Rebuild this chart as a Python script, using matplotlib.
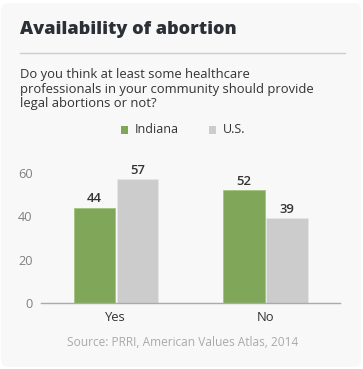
import matplotlib
matplotlib.use("Agg")
import matplotlib.pyplot as plt
from matplotlib.patches import FancyBboxPatch, Rectangle
import numpy as np

# chart data
categories = ["Yes", "No"]
indiana = [44, 52]
us = [57, 39]
series_names = ["Indiana", "U.S."]
yticks = [0, 20, 40, 60]

W, H = 363, 369
green = "#80a759"
grey = "#cccccc"

plt.rcParams["font.family"] = ["Open Sans", "DejaVu Sans"]

fig = plt.figure(figsize=(W / 100, H / 100), dpi=100)
fig.patch.set_facecolor("white")


def fx(px):
    return px / W


def fy(py):
    return 1 - py / H


# card background with slightly rounded corners
card = FancyBboxPatch((fx(1), fy(367)), fx(360), 364 / H,
                      boxstyle="round,pad=0,rounding_size=0.02",
                      transform=fig.transFigure, facecolor="#f8f8f8",
                      edgecolor="none", zorder=-5)
fig.patches.append(card)

# title and separator
fig.text(fx(20), fy(30), "Availability of abortion", fontsize=13.1,
         fontweight="heavy", color="#2b2f36", va="center", ha="left")
fig.add_artist(plt.Line2D([fx(20), fx(345)], [fy(53), fy(53)],
                          transform=fig.transFigure, color="#cccccc", lw=1))

# subtitle
fig.text(fx(20), fy(89),
         "Do you think at least some healthcare\n"
         "professionals in your community should provide\n"
         "legal abortions or not?",
         fontsize=9.4, color="#333333", va="center", ha="left",
         linespacing=1.12)

# legend
for name, col, sx in zip(series_names, [green, grey], [121, 209]):
    fig.patches.append(Rectangle((fx(sx), fy(134)), fx(7), 8 / H,
                                 transform=fig.transFigure, facecolor=col,
                                 edgecolor="none"))
    fig.text(fx(sx + 14), fy(130), name, fontsize=9, color="#333333",
             va="center", ha="left")

# axes
ax = fig.add_axes([fx(41), fy(303), fx(340) - fx(41), (303 - 151.3) / H])
ax.set_facecolor("none")
ax.set_zorder(2)
x = np.arange(len(categories))
bw = 0.278
b1 = ax.bar(x - bw / 2 - 0.003, indiana, bw, color=green, edgecolor="#a3c47f",
            linewidth=0.6, zorder=2)
b2 = ax.bar(x + bw / 2 + 0.007, us, bw, color=grey, edgecolor="#e6e6e6",
            linewidth=0.6, zorder=2)
for bars in (b1, b2):
    for b in bars:
        ax.annotate(f"{b.get_height():.0f}",
                    (b.get_x() + b.get_width() / 2, b.get_height()),
                    xytext=(0, 2), textcoords="offset points",
                    ha="center", va="bottom", fontsize=9.4,
                    fontweight="semibold", color="#333333")

ax.set_xlim(-0.5, 1.5)
ax.set_ylim(0, 70)
ax.set_yticks(yticks)
ax.set_xticks(x)
ax.set_xticklabels(categories)
for s in ["top", "right", "left"]:
    ax.spines[s].set_visible(False)
ax.spines["bottom"].set_color("#aaaaaa")
ax.spines["bottom"].set_linewidth(1)
ax.tick_params(axis="both", length=0)
ax.tick_params(axis="y", labelsize=9.2, labelcolor="#808080", pad=6)
ax.tick_params(axis="x", labelsize=9.4, labelcolor="#333333", pad=6)

# source
fig.text(fx(183), fy(342), "Source: PRRI, American Values Atlas, 2014",
         fontsize=8.6, color="#aaaaaa", ha="center", va="center")

fig.savefig("out.png", dpi=100, facecolor=fig.get_facecolor())
